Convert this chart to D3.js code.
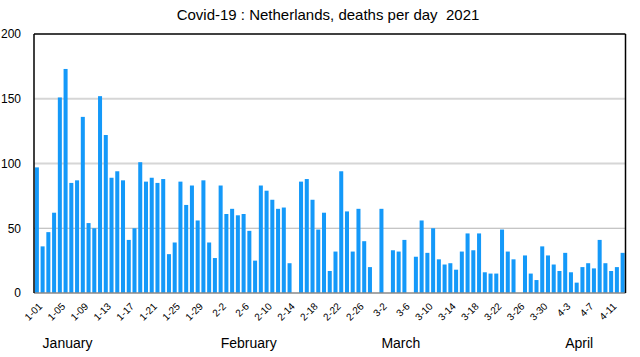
<!DOCTYPE html>
<html><head><meta charset="utf-8">
<script src="https://cdn.jsdelivr.net/npm/d3@7/dist/d3.min.js"></script>
<style>
body{margin:0;background:#fff}
text{font-family:"Liberation Sans",Arial,Helvetica,sans-serif;fill:#000}
</style>
</head><body>
<svg id="c" width="640" height="357"></svg>
<script>
const title = "Covid-19 : Netherlands, deaths per day  2021";
const categories = [
"1-01","1-02","1-03","1-04","1-05","1-06","1-07","1-08","1-09","1-10","1-11","1-12","1-13","1-14","1-15","1-16","1-17","1-18","1-19","1-20","1-21","1-22","1-23","1-24","1-25","1-26","1-27","1-28","1-29","1-30","1-31",
"2-1","2-2","2-3","2-4","2-5","2-6","2-7","2-8","2-9","2-10","2-11","2-12","2-13","2-14","2-15","2-16","2-17","2-18","2-19","2-20","2-21","2-22","2-23","2-24","2-25","2-26","2-27","2-28",
"3-1","3-2","3-3","3-4","3-5","3-6","3-7","3-8","3-9","3-10","3-11","3-12","3-13","3-14","3-15","3-16","3-17","3-18","3-19","3-20","3-21","3-22","3-23","3-24","3-25","3-26","3-27","3-28","3-29","3-30","3-31",
"4-1","4-2","4-3","4-4","4-5","4-6","4-7","4-8","4-9","4-10","4-11","4-12","4-13"];
const deaths = [
97,36,47,62,151,173,85,87,136,54,50,152,122,89,94,87,41,50,101,86,89,85,88,30,39,86,68,83,56,87,39,
27,83,61,65,60,61,48,25,83,79,72,65,66,23,0,86,88,72,49,62,17,32,94,63,32,65,40,20,
0,65,0,33,32,41,0,28,56,31,50,26,22,23,18,32,46,33,46,16,15,15,49,32,26,0,29,15,10,36,29,22,
17,31,16,8,20,23,19,41,23,17,20,31];
const tickLabels = ["1-01","1-05","1-09","1-13","1-17","1-21","1-25","1-29","2-2","2-6","2-10","2-14","2-18","2-22","2-26","3-2","3-6","3-10","3-14","3-18","3-22","3-26","3-30","4-3","4-7","4-11"];
const yTicks = [0,50,100,150,200];
const months = ["January","February","March","April"];
const monthAnchors = ["1-02","2-2","3-2","4-3"];

const svg = d3.select("#c");
const pLeft = 34, pRight = 625.5, pTop = 34, pBottom = 293;

const x = d3.scaleBand().domain(categories).range([pLeft, pRight]).paddingInner(0.3).paddingOuter(0.15);
const y = d3.scaleLinear().domain([0, 200]).range([pBottom, pTop]);

// gridlines
svg.append("g").selectAll("line").data(yTicks.filter(v => v > 0 && v < 200)).join("line")
  .attr("x1", pLeft).attr("x2", pRight)
  .attr("y1", d => y(d)).attr("y2", d => y(d))
  .attr("stroke", d => d === 50 ? "#b3b3b3" : "#d6d6d6")
  .attr("stroke-width", d => d === 50 ? 1 : 2);

// bars
svg.append("g").selectAll("rect").data(deaths.map((v, i) => ({c: categories[i], v})).filter(d => d.v > 0)).join("rect")
  .attr("x", d => x(d.c)).attr("width", x.bandwidth())
  .attr("y", d => y(d.v)).attr("height", d => y(0) - y(d.v))
  .attr("fill", "#1499f9");

// frame
svg.append("line").attr("x1", pLeft).attr("x2", pRight).attr("y1", pBottom).attr("y2", pBottom).attr("stroke", "#8a8a8a").attr("stroke-width", 1.5);
svg.append("line").attr("x1", pLeft).attr("x2", pRight).attr("y1", pTop).attr("y2", pTop).attr("stroke", "#000").attr("stroke-width", 1.5);
svg.append("line").attr("x1", pLeft).attr("x2", pLeft).attr("y1", pTop).attr("y2", pBottom).attr("stroke", "#000").attr("stroke-width", 1.5);
svg.append("line").attr("x1", pRight).attr("x2", pRight).attr("y1", pTop).attr("y2", pBottom).attr("stroke", "#000").attr("stroke-width", 1.5);

// y axis labels
const yAxis = d3.axisLeft(y).tickValues(yTicks).tickSize(0).tickPadding(13);
const gy = svg.append("g").attr("transform", `translate(${pLeft},0)`).call(yAxis);
gy.select(".domain").remove();
gy.selectAll("text").attr("font-size", 12).attr("font-family", '"Liberation Sans",Arial,sans-serif').attr("fill", "#000");

// x axis labels
const xAxis = d3.axisBottom(x).tickValues(tickLabels).tickSize(0).tickPadding(0);
const gx = svg.append("g").attr("transform", `translate(0,${pBottom})`).call(xAxis);
gx.select(".domain").remove();
gx.selectAll("text")
  .attr("font-size", 10).attr("font-family", '"Liberation Sans",Arial,sans-serif').attr("fill", "#000")
  .attr("text-anchor", "end")
  .attr("transform", "translate(6,14) rotate(-45)")
  .attr("dy", "0").attr("y", 0).attr("x", 0);

// month labels
svg.append("g").selectAll("text").data(months).join("text")
  .attr("x", (d, i) => x(monthAnchors[i]) + 2)
  .attr("y", 348)
  .attr("font-size", 14)
  .text(d => d);

// title
svg.append("text").attr("x", 328).attr("y", 19.5).attr("text-anchor", "middle")
  .attr("font-size", 15).style("white-space", "pre").text(title);
</script>
</body></html>
